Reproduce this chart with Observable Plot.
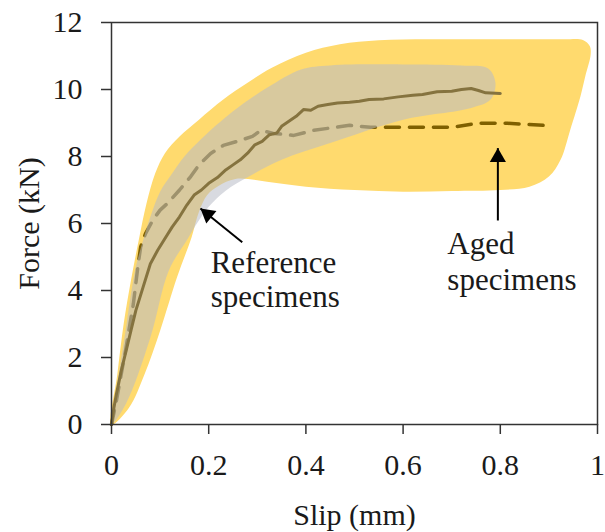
<!DOCTYPE html>
<html>
<head>
<meta charset="utf-8">
<script src="https://cdn.jsdelivr.net/npm/d3@7"></script>
<script src="https://cdn.jsdelivr.net/npm/@observablehq/plot@0.6"></script>
<style>
  html, body { margin: 0; padding: 0; background: #fff; }
</style>
</head>
<body>
<div id="chart"></div>
<script>
// ---- Aged specimens envelope (yellow band, closed outline) ----
const agedBandX = [0, 0.012, 0.025, 0.04, 0.056, 0.072, 0.09, 0.11, 0.14, 0.18, 0.23, 0.28, 0.33, 0.40, 0.47, 0.55, 0.65, 0.74, 0.85, 0.93, 0.97, 0.984, 0.986, 0.975, 0.965, 0.944, 0.924, 0.9, 0.86, 0.8, 0.7, 0.6, 0.5, 0.4, 0.32, 0.255, 0.22, 0.197, 0.18, 0.165, 0.135, 0.1, 0.068, 0.036];
const agedBandY = [0, 1.5, 3.0, 4.3, 5.5, 6.6, 7.5, 8.1, 8.6, 9.1, 9.7, 10.2, 10.65, 11.1, 11.35, 11.47, 11.5, 11.5, 11.5, 11.5, 11.48, 11.3, 11.05, 10.4, 9.8, 8.8, 7.9, 7.4, 7.1, 7.0, 6.97, 6.95, 7.0, 7.1, 7.25, 7.33, 7.12, 6.85, 6.35, 5.6, 4.4, 2.8, 1.5, 0.5];

// ---- Reference specimens envelope (grey band, closed outline) ----
const refBandX = [0, 0.006, 0.018, 0.028, 0.038, 0.05, 0.065, 0.08, 0.1, 0.125, 0.15, 0.183, 0.25, 0.32, 0.39, 0.45, 0.6, 0.72, 0.775, 0.79, 0.78, 0.74, 0.6, 0.45, 0.35, 0.28, 0.235, 0.2, 0.178, 0.155, 0.118, 0.08, 0.03];
const refBandY = [0, 0.63, 1.8, 2.7, 3.7, 4.7, 5.5, 6.2, 6.95, 7.5, 8.0, 8.5, 9.35, 10.05, 10.6, 10.72, 10.75, 10.72, 10.63, 10.2, 9.7, 9.45, 9.1, 8.4, 7.9, 7.38, 6.98, 6.5, 6.05, 5.5, 4.6, 2.6, 0.63];

// ---- Reference specimens mean curve (solid) ----
const refMeanX = [0, 0.005, 0.01, 0.02, 0.03, 0.04, 0.05, 0.065, 0.08, 0.095, 0.11, 0.125, 0.14, 0.155, 0.17, 0.185, 0.2, 0.218, 0.235, 0.25, 0.265, 0.28, 0.295, 0.31, 0.325, 0.34, 0.35, 0.365, 0.38, 0.395, 0.41, 0.425, 0.445, 0.465, 0.49, 0.51, 0.53, 0.56, 0.59, 0.62, 0.64, 0.67, 0.7, 0.72, 0.74, 0.755, 0.77, 0.8];
const refMeanY = [0, 0.5, 0.9, 1.6, 2.2, 2.8, 3.4, 4.1, 4.8, 5.2, 5.55, 5.9, 6.2, 6.55, 6.85, 7.0, 7.2, 7.37, 7.6, 7.75, 7.9, 8.1, 8.35, 8.45, 8.65, 8.7, 8.9, 9.05, 9.2, 9.4, 9.38, 9.5, 9.55, 9.6, 9.62, 9.65, 9.7, 9.72, 9.78, 9.83, 9.85, 9.93, 9.95, 10.0, 10.03, 9.97, 9.9, 9.88];

// ---- Aged specimens mean curve (dashed) ----
const agedMeanX = [0, 0.01, 0.02, 0.03, 0.038, 0.045, 0.05, 0.055, 0.06, 0.07, 0.085, 0.1, 0.115, 0.14, 0.163, 0.18, 0.204, 0.23, 0.265, 0.29, 0.307, 0.333, 0.375, 0.416, 0.45, 0.49, 0.533, 0.59, 0.64, 0.7, 0.753, 0.815, 0.889];
const agedMeanY = [0, 0.7, 1.5, 2.3, 3.0, 3.6, 4.2, 4.8, 5.3, 5.7, 6.1, 6.4, 6.6, 7.0, 7.4, 7.75, 8.09, 8.33, 8.48, 8.6, 8.78, 8.69, 8.63, 8.78, 8.85, 8.93, 8.87, 8.87, 8.87, 8.87, 8.99, 8.99, 8.93];

// ---- Axes ----
const xTicks = [0, 0.2, 0.4, 0.6, 0.8, 1];
const xTickLabels = ["0", "0.2", "0.4", "0.6", "0.8", "1"];
const yTicks = [0, 2, 4, 6, 8, 10, 12];
const yTickLabels = ["0", "2", "4", "6", "8", "10", "12"];
const xLabel = "Slip (mm)";
const yLabel = "Force (kN)";

// ---- Annotations ----
const annX = [0.204, 0.204, 0.691, 0.691];
const annY = [5.19, 4.15, 5.75, 4.66];
const annText = ["Reference", "specimens", "Aged", "specimens"];
// arrows: tail (x1,y1) -> tip (x2,y2)
const refArrow = {x1: 0.269, y1: 5.44, x2: 0.183, y2: 6.45};
const agedArrow = {x1: 0.795, y1: 6.09, x2: 0.795, y2: 8.25};

const pts = (xs, ys) => xs.map((x, i) => ({x, y: ys[i]}));
const agedBand = pts(agedBandX, agedBandY);
const refBand = pts(refBandX, refBandY);
const refMean = pts(refMeanX, refMeanY);
const agedMean = pts(agedMeanX, agedMeanY);
const annotations = annText.map((t, i) => ({x: annX[i], y: annY[i], text: t}));
const yTickData = yTicks.map((v, i) => ({y: v, text: yTickLabels[i]}));

const chart = Plot.plot({
  width: 605,
  height: 532,
  marginLeft: 111,
  marginRight: 8,
  marginTop: 22,
  marginBottom: 108,
  style: {
    fontFamily: "'Liberation Serif', 'Times New Roman', serif",
    fontSize: "30px",
    color: "#1a1a1a",
    background: "#fff"
  },
  x: {domain: [0, 1]},
  y: {domain: [0, 12]},
  marks: [
    Plot.line(agedBand, {x: "x", y: "y", fill: "#FFDA6E", stroke: "none", curve: "catmull-rom-closed"}),
    Plot.line(agedMean, {x: "x", y: "y", stroke: "#7F6000", strokeWidth: 3.5, strokeDasharray: "14,10"}),
    Plot.line(refBand, {x: "x", y: "y", fill: "#B8BCC6", fillOpacity: 0.55, stroke: "none", curve: "catmull-rom-closed"}),
    Plot.line(refMean, {x: "x", y: "y", stroke: "#85733F", strokeWidth: 3}),
    Plot.link([refArrow, agedArrow], {x1: "x1", y1: "y1", x2: "x2", y2: "y2", stroke: "#000", strokeWidth: 2}),
    Plot.dot([refArrow], {x: "x2", y: "y2", symbol: "triangle", r: 6, fill: "#000", stroke: "none", rotate: -51, dx: 7.3, dy: 5.9}),
    Plot.dot([agedArrow], {x: "x2", y: "y2", symbol: "triangle", r: 6, fill: "#000", stroke: "none", rotate: 0, dy: 9.3}),
    Plot.text(annotations, {x: "x", y: "y", text: "text", textAnchor: "start", lineAnchor: "top", fontSize: 31, fill: "#1a1a1a"}),
    Plot.axisX({ticks: xTicks, tickFormat: (d, i) => xTickLabels[i], tickSize: 10, tickPadding: 19,
      label: xLabel, labelAnchor: "center", labelArrow: "none", labelOffset: 100, stroke: "#333", strokeWidth: 1.5}),
    Plot.axisY({ticks: yTicks, tickFormat: () => "", tickSize: 10,
      label: yLabel, labelAnchor: "center", labelArrow: "none", labelOffset: 94, stroke: "#333", strokeWidth: 1.5}),
    Plot.text(yTickData, {y: "y", text: "text", frameAnchor: "left", textAnchor: "end", lineAnchor: "middle", dx: -29, fill: "#1a1a1a"}),
    Plot.frame({stroke: "#333", strokeWidth: 1.5})
  ]
});
document.getElementById("chart").appendChild(chart);
</script>
</body>
</html>
